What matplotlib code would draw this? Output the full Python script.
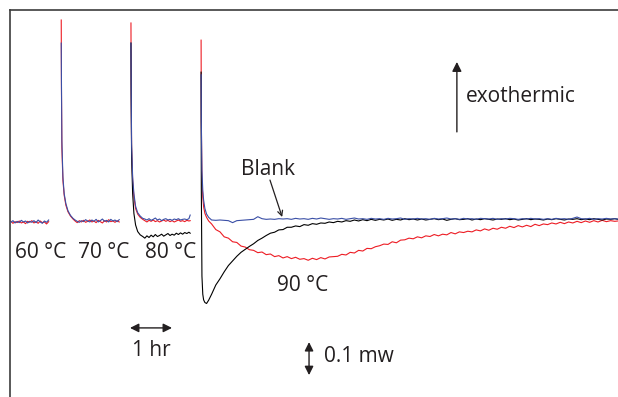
"""
Isothermal heat flow traces (60-90 C steps) with scale bars
"""
import numpy as np
import matplotlib
matplotlib.use("Agg")
import matplotlib.pyplot as plt

plt.rcParams['font.family'] = ['Open Sans', 'DejaVu Sans']

# time (hr) for each isothermal step
t_60 = [0.02, 0.07, 0.12, 0.17, 0.22, 0.27, 0.32, 0.37, 0.42, 0.47,
        0.52, 0.57, 0.62, 0.67, 0.72, 0.77, 0.82, 0.87, 0.92]
t_70 = [1.22, 1.225, 1.235, 1.26, 1.29, 1.33, 1.38, 1.44, 1.50,
        1.55, 1.60, 1.65, 1.70, 1.75, 1.80, 1.85, 1.90, 1.95, 2.00, 2.05,
        2.10, 2.15, 2.20, 2.25, 2.30, 2.35, 2.40, 2.45, 2.50, 2.55, 2.60]
t_80 = [2.88, 2.885, 2.895, 2.92, 2.95, 2.99, 3.04, 3.10, 3.16,
        3.21, 3.26, 3.31, 3.36, 3.41, 3.46, 3.51, 3.56, 3.61, 3.66, 3.71,
        3.76, 3.81, 3.86, 3.91, 3.96, 4.01, 4.06, 4.11, 4.16, 4.21, 4.26, 4.29]
t_90 = [4.55, 4.555, 4.57, 4.59, 4.61, 4.64, 4.68, 4.73,
        4.8, 4.9, 5.0, 5.1, 5.2, 5.3, 5.4, 5.5, 5.6, 5.7,
        5.8, 5.9, 6.0, 6.1, 6.2, 6.3, 6.4, 6.5, 6.6, 6.7,
        6.8, 6.9, 7.0, 7.1, 7.2, 7.3, 7.4, 7.5, 7.6, 7.7,
        7.8, 7.9, 8.0, 8.1, 8.2, 8.3, 8.4, 8.5, 8.6, 8.7,
        8.8, 8.9, 9.0, 9.1, 9.2, 9.3, 9.4, 9.5, 9.6, 9.7,
        9.8, 9.9, 10.0, 10.1, 10.2, 10.3, 10.4, 10.5, 10.6, 10.7,
        10.8, 10.9, 11.0, 11.1, 11.2, 11.3, 11.4, 11.5, 11.6, 11.7,
        11.8, 11.9, 12.0, 12.1, 12.2, 12.3, 12.4, 12.5, 12.6, 12.7,
        12.8, 12.9, 13.0, 13.1, 13.2, 13.3, 13.4, 13.5, 13.6, 13.7,
        13.8, 13.9, 14.0, 14.1, 14.2, 14.3, 14.4, 14.47]

# heat flow (mW), red sample
red_60 = [-0.004, -0.010, -0.005, -0.008, -0.003, -0.009, -0.006, -0.011, -0.004, -0.007,
          -0.002, -0.009, -0.005, -0.010, -0.003, -0.008, -0.006, -0.012, -0.005]
red_70 = [0.606, 0.40, 0.22, 0.12, 0.075, 0.045, 0.025, 0.012, 0.003,
          -0.003, -0.008, -0.002, -0.006, -0.001, -0.007, -0.004, 0.000, -0.006, -0.003, -0.008,
          -0.001, -0.005, -0.009, -0.002, -0.006, 0.001, -0.005, -0.003, -0.007, -0.002, -0.006]
red_80 = [0.597, 0.40, 0.22, 0.12, 0.07, 0.035, 0.018, 0.008, 0.002,
          -0.002, -0.006, -0.001, -0.004, 0.000, -0.005, -0.002, -0.006, -0.003, 0.000, -0.004,
          -0.001, -0.005, -0.002, -0.006, -0.003, 0.000, -0.004, -0.002, -0.005, -0.001, -0.003, -0.002]
red_90 = [0.545, 0.30, 0.12, 0.07, 0.04, 0.02, 0.008, -0.003,
          -0.012, -0.029, -0.036, -0.051, -0.055, -0.066, -0.068, -0.079, -0.082, -0.090,
          -0.092, -0.099, -0.097, -0.105, -0.103, -0.111, -0.108, -0.115, -0.111, -0.117,
          -0.113, -0.119, -0.117, -0.122, -0.116, -0.120, -0.114, -0.118, -0.112, -0.111,
          -0.110, -0.104, -0.106, -0.098, -0.100, -0.092, -0.094, -0.086, -0.087, -0.081,
          -0.078, -0.073, -0.074, -0.066, -0.069, -0.061, -0.060, -0.055, -0.057, -0.051,
          -0.054, -0.048, -0.050, -0.044, -0.048, -0.043, -0.045, -0.038, -0.042, -0.036,
          -0.038, -0.034, -0.036, -0.030, -0.033, -0.027, -0.031, -0.025, -0.028, -0.022,
          -0.025, -0.019, -0.023, -0.017, -0.021, -0.016, -0.020, -0.013, -0.017, -0.012,
          -0.014, -0.009, -0.012, -0.007, -0.011, -0.006, -0.009, -0.004, -0.008, -0.003,
          -0.007, -0.002, -0.006, -0.001, -0.005, -0.002, -0.004, -0.003]

# black sample (80 and 90 C only)
black_80 = [0.536, 0.38, 0.19, 0.08, 0.02, -0.015, -0.035, -0.045, -0.050,
            -0.055, -0.048, -0.053, -0.046, -0.051, -0.044, -0.050, -0.047, -0.043, -0.049,
            -0.045, -0.041, -0.047, -0.043, -0.046, -0.040, -0.044, -0.039, -0.043, -0.038,
            -0.041, -0.037, -0.040]
black_90 = [0.448, 0.10, -0.17, -0.225, -0.242, -0.250, -0.253, -0.243,
            -0.225, -0.197, -0.178, -0.157, -0.138, -0.124, -0.110, -0.098, -0.089, -0.080,
            -0.072, -0.062, -0.055, -0.047, -0.040, -0.037, -0.030, -0.029, -0.022, -0.022,
            -0.018, -0.020, -0.014, -0.016, -0.011, -0.013, -0.009, -0.010, -0.006, -0.008,
            -0.004, -0.006, -0.002, -0.004, 0.000, -0.003, 0.001, -0.002, 0.002, -0.001,
            0.002, 0.000, 0.003, -0.001, 0.002, 0.000, 0.004, 0.001, 0.003, 0.000,
            0.003, 0.000, 0.002, 0.004, 0.001, 0.003, -0.001, 0.002, 0.004, 0.001,
            0.002, 0.004, 0.000, 0.003, 0.001, 0.004, 0.002, 0.000, 0.003, 0.002,
            0.004, 0.001, 0.003, 0.000, 0.002, 0.004, 0.001, 0.003, 0.002, 0.000,
            0.003, 0.001, 0.004, 0.002, 0.000, 0.003, 0.002, 0.004, 0.001, 0.003,
            0.001, 0.004, 0.002, 0.000, 0.003, 0.002, 0.004, 0.002]

# blue = blank
blue_60 = [-0.007, -0.002, -0.009, -0.004, -0.008, -0.001, -0.006, -0.003, -0.009, -0.004,
           -0.007, -0.002, -0.008, 0.000, -0.006, -0.010, -0.003, -0.007, 0.000]
blue_70 = [0.536, 0.42, 0.24, 0.13, 0.08, 0.05, 0.028, 0.014, 0.005,
           0.000, -0.004, -0.007, -0.002, -0.005, 0.001, -0.003, -0.006, 0.000, -0.004, 0.002,
           -0.006, -0.002, 0.003, -0.004, -0.001, -0.006, 0.002, -0.003, 0.000, -0.005, 0.001]
blue_80 = [0.536, 0.41, 0.23, 0.13, 0.08, 0.042, 0.022, 0.012, 0.005,
           0.003, 0.000, 0.004, -0.001, 0.002, 0.006, 0.000, 0.003, -0.002, 0.002, 0.004,
           0.000, 0.002, -0.001, 0.003, 0.001, 0.004, 0.000, 0.002, 0.003, 0.001, 0.004, 0.015]
blue_90 = [0.44, 0.30, 0.15, 0.09, 0.06, 0.035, 0.018, 0.008,
           0.000, -0.001, 0.000, -0.001, -0.002, -0.008, -0.002, -0.001, 0.000, 0.001,
           0.002, 0.010, 0.004, 0.002, 0.003, 0.002, 0.004, 0.003, 0.004, 0.002,
           0.005, 0.003, 0.004, 0.002, 0.005, 0.003, 0.006, 0.004, 0.002, 0.004,
           0.003, 0.005, 0.002, 0.004, 0.006, 0.003, 0.004, 0.002, 0.005, 0.003,
           0.004, 0.002, 0.005, 0.003, 0.004, 0.006, 0.002, 0.004, 0.003, 0.005,
           0.003, 0.004, 0.002, 0.005, 0.003, 0.004, 0.006, 0.003, 0.004, 0.002,
           0.005, 0.003, 0.004, 0.002, 0.005, 0.004, 0.003, 0.005, 0.002, 0.004,
           0.003, 0.005, 0.004, 0.002, 0.004, 0.003, 0.005, 0.003, 0.004, 0.002,
           0.004, 0.002, 0.005, 0.003, 0.004, 0.002, 0.005, 0.009, 0.004, 0.003,
           0.005, 0.002, 0.004, 0.003, 0.005, 0.003, 0.004, 0.003]

temp_labels = ['60 °C', '70 °C', '80 °C', '90 °C']

RED = '#ed1c24'
BLUE = '#3a4fa6'
BLACK = '#000000'
INK = '#231f20'

fig = plt.figure(figsize=(6.18, 3.97), dpi=100)
ax = fig.add_axes([10 / 618, 0, 608 / 618, 387 / 397])
ax.set_xlim(0, 608 / 42)
ax.set_ylim((220 - 397) / 330, (220 - 10) / 330)

for t, q in [(t_60, red_60), (t_70, red_70), (t_80, red_80), (t_90, red_90)]:
    ax.plot(t, q, color=RED, lw=0.8, zorder=2)
for t, q in [(t_80, black_80), (t_90, black_90)]:
    ax.plot(t, q, color=BLACK, lw=0.8, zorder=3)
for t, q in [(t_60, blue_60), (t_70, blue_70), (t_80, blue_80), (t_90, blue_90)]:
    ax.plot(t, q, color=BLUE, lw=0.8, zorder=4)

# frame: only left and top lines
for side in ['right', 'bottom']:
    ax.spines[side].set_visible(False)
for side in ['left', 'top']:
    ax.spines[side].set_color('#3c3c3c')
    ax.spines[side].set_linewidth(1.2)
ax.set_xticks([])
ax.set_yticks([])

fs = 15
label_pos = [(0.74, -0.10), (2.23, -0.10), (3.82, -0.10), (6.96, -0.197)]
for lab, (x, y) in zip(temp_labels, label_pos):
    ax.text(x, y, lab, ha='center', va='center', fontsize=fs, color=INK)

# Blank label and pointer
ax.text(6.14, 0.152, 'Blank', ha='center', va='center', fontsize=fs, color=INK)
ax.annotate('', xy=(6.48, 0.009), xytext=(6.19, 0.121),
            arrowprops=dict(arrowstyle='->', color=INK, lw=0.9,
                            shrinkA=0, shrinkB=0, mutation_scale=9))

# exothermic direction
ax.annotate('', xy=(10.64, 0.479), xytext=(10.64, 0.267),
            arrowprops=dict(arrowstyle='-|>', color=INK, lw=1.0,
                            shrinkA=0, shrinkB=0, mutation_scale=14))
ax.text(10.86, 0.373, 'exothermic', ha='left', va='center', fontsize=fs, color=INK)

# scale bars
ax.annotate('', xy=(3.857, -0.327), xytext=(2.857, -0.327),
            arrowprops=dict(arrowstyle='<|-|>', color=INK, lw=1.0,
                            shrinkA=0, shrinkB=0, mutation_scale=13))
ax.text(3.36, -0.394, '1 hr', ha='center', va='center', fontsize=fs, color=INK)

ax.annotate('', xy=(7.12, -0.370), xytext=(7.12, -0.470),
            arrowprops=dict(arrowstyle='<|-|>', color=INK, lw=1.0,
                            shrinkA=0, shrinkB=0, mutation_scale=13))
ax.text(7.48, -0.415, '0.1 mw', ha='left', va='center', fontsize=fs, color=INK)

fig.savefig('out.png', dpi=100)
